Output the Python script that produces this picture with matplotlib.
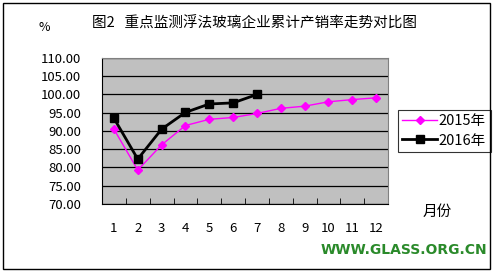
import numpy as np
import matplotlib.pyplot as plt
from matplotlib.patches import Rectangle

plt.rcParams['font.family'] = ['Noto Sans CJK SC', 'DejaVu Sans']

# 月份与累计产销率
months = ['1', '2', '3', '4', '5', '6', '7', '8', '9', '10', '11', '12']
rate_2015 = [90.5, 79.3, 86.2, 91.5, 93.2, 93.7, 94.8, 96.2, 96.8, 98.0, 98.6, 99.1]
rate_2016 = [93.5, 82.3, 90.5, 95.1, 97.4, 97.7, 100.0]
yticks = [70, 75, 80, 85, 90, 95, 100, 105, 110]

fig = plt.figure(figsize=(4.94, 2.72), dpi=100)
fig.patches.append(Rectangle((0.006, 0.012), 0.986, 0.976, transform=fig.transFigure,
                             fill=False, edgecolor='black', linewidth=1.0))

ax = fig.add_axes([0.2065, 0.25, 0.579, 0.5368])
ax.set_facecolor('#C0C0C0')

x = np.arange(len(months))
ax.plot(x, rate_2015, color='#FF00FF', linewidth=1.0, marker='D', markersize=4,
        label='2015年')
ax.plot(x[:len(rate_2016)], rate_2016, color='black', linewidth=2.0, marker='s',
        markersize=6, label='2016年')

ax.set_xlim(-0.5, len(months) - 0.5)
ax.set_ylim(70, 110)
ax.set_yticks(yticks)
ax.set_yticklabels(['%.2f' % v for v in yticks], fontsize=9.5)
ax.yaxis.grid(True, color='black', linewidth=0.9)
ax.set_axisbelow(True)
ax.tick_params(axis='y', length=0, pad=15)

ax.set_xticks(x)
ax.set_xticklabels(months, fontsize=9.5)
ax.set_xticks(np.arange(-0.5, len(months)), minor=True)
ax.tick_params(axis='x', which='major', length=0, pad=13)
ax.tick_params(axis='x', which='minor', direction='in', length=4, color='black')

for side in ['top', 'right']:
    ax.spines[side].set_color('#808080')
for side in ['left', 'bottom']:
    ax.spines[side].set_color('black')

leg = ax.legend(loc='center left', bbox_to_anchor=(1.035, 0.5), frameon=True,
                fancybox=False, edgecolor='black', fontsize=10.5, handlelength=2.4,
                borderpad=0.3, labelspacing=0.35, handletextpad=0.1, borderaxespad=0)
leg.get_frame().set_linewidth(0.8)

fig.text(0.515, 0.915, '图2   重点监测浮法玻璃企业累计产销率走势对比图', ha='center',
         va='center', fontsize=10.5)
fig.text(0.09, 0.9, '%', ha='center', va='center', fontsize=9)
fig.text(0.885, 0.222, '月份', ha='center', va='center', fontsize=10.5)
fig.text(0.817, 0.08, 'WWW.GLASS.ORG.CN', ha='center', va='center', fontsize=10,
         fontweight='heavy', color='#2A8A2A', family='DejaVu Sans')

fig.savefig('out.png', dpi=100)
